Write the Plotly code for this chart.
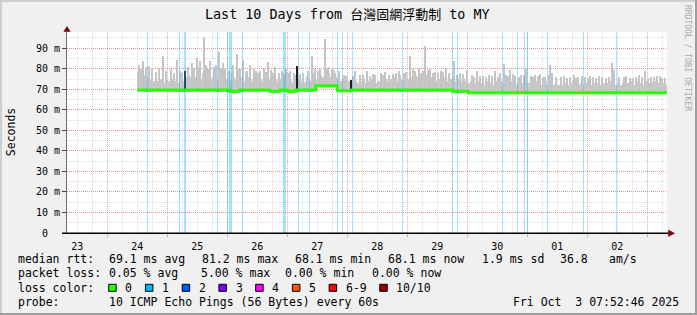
import numpy as np
import plotly.graph_objects as go

# ---------------- data (time in hours since 2025-09-23 00:00) ----------------
T_END = 247 + 52 / 60 + 46 / 3600          # Fri Oct 3 07:52:46
T_START = T_END - 240.0                    # last 10 days
Y_MAX = 97.9                               # ms

title_prefix = "Last 10 Days from "
title_target = "台灣固網浮動制"
title_suffix = " to MY"

day_label_hours = [12, 36, 60, 84, 108, 132, 156, 180, 204, 228]
day_labels = ["23", "24", "25", "26", "27", "28", "29", "30", "01", "02"]
y_tick_values = [0, 10, 20, 30, 40, 50, 60, 70, 80, 90]
y_tick_labels = ["0\u00a0\u00a0", "10 m", "20 m", "30 m", "40 m", "50 m",
                 "60 m", "70 m", "80 m", "90 m"]

# smoke (upper edge of ping spread), hourly from h=36
smoke_first_hour = 36
smoke_top = [
    78, 80, 77, 79, 76, 75, 74, 76, 74, 75, 73, 76,
    74, 73, 75, 74, 73, 75, 74, 76, 77, 76, 78, 76,
    77, 75, 78, 76, 77, 75, 76, 78, 75, 76, 74, 75,
    75, 74, 76, 75, 77, 76, 74, 75, 76, 74, 75, 76,
    74, 75, 74, 76, 75, 74, 73, 75, 74, 75, 73, 74,
    74, 75, 73, 74, 75, 74, 73, 74, 75, 74, 76, 75,
    76, 77, 76, 77, 78, 76, 77, 76, 75, 74, 75, 74,
    74, 73, 75, 74, 73, 74, 75, 73, 74, 75, 74, 73,
    74, 75, 76, 75, 74, 75, 76, 75, 74, 75, 74, 75,
    75, 76, 75, 77, 76, 75, 76, 77, 75, 76, 75, 74,
    75, 74, 76, 75, 74, 75, 76, 74, 75, 74, 75, 74,
    73, 74, 72, 73, 74, 73, 72, 73, 74, 73, 72, 74,
    73, 74, 73, 72, 73, 74, 73, 72, 73, 72, 73, 74,
    73, 72, 73, 74, 73, 72, 73, 74, 72, 73, 72, 73,
    72, 73, 72, 73, 72, 73, 74, 73, 72, 73, 72, 73,
    73, 72, 73, 74, 73, 72, 73, 72, 73, 74, 73, 72,
    73, 72, 73, 72, 73, 74, 72, 73, 74, 73, 72, 74, 73, 72, 73, 74, 73, 72, 73, 72,
]

# individual tall smoke spikes
spike_hours = [36.8, 38.3, 39.3, 40.6, 46.3,
               49.5, 51.8, 53.0, 57.9, 59.8,
               61.2, 62.5, 63.6, 65.2, 66.6, 68.5, 70.2, 71.0,
               74.2, 75.9, 77.2, 78.4, 80.0, 81.2, 82.8,
               85.0, 86.8, 88.4, 89.5, 91.2, 92.6, 95.3,
               97.0, 98.5, 101.2, 103.9, 105.9, 107.0,
               109.2, 110.9, 112.2, 113.9, 116.5,
               123.2, 125.0, 127.9, 130.1,
               133.6, 135.2, 138.4, 140.6, 142.8,
               145.2, 147.0, 148.8, 151.2, 153.2, 155.0,
               157.4, 159.6, 162.6, 165.2, 167.9,
               169.8, 171.9, 174.4, 176.6, 178.9,
               181.2, 182.5, 183.4, 185.2, 187.0, 190.5, 191.6,
               193.6, 195.2, 197.2, 199.0, 201.2, 202.0,
               205.5, 208.0, 210.5, 212.4, 213.9,
               217.2, 219.5, 222.0, 225.9, 226.6,
               230.5, 233.0, 236.5, 239.2, 241.5, 243.9, 246.0]
spike_tops = [82, 84, 81, 81.5, 86,
              80, 84.5, 79, 83, 85,
              84, 95.5, 82, 84, 81, 88, 83, 80,
              82, 87, 80, 84.5, 79, 82, 80,
              79, 80, 83.5, 79.5, 81, 78, 80,
              79, 78, 77.5, 76.5, 86, 80,
              80, 94.5, 81, 80.5, 79,
              79, 77, 79, 77.5,
              78, 78.5, 77.5, 79, 78,
              86, 79, 80, 91, 80, 78.5,
              79, 80, 84, 78, 79.5,
              77, 79, 76.5, 77, 79,
              78, 82.5, 77, 79.5, 76.5, 77, 80,
              76.5, 77, 77.5, 76, 82, 78,
              76, 75.5, 77.2, 76, 76.5,
              76.5, 75.5, 76, 83, 79.5,
              76, 75.5, 77, 79, 76, 76.5, 75.5]

# smaller smoke spikes
minor_spike_hours = [37.5, 42.0, 43.5, 44.8, 47.6, 50.6, 54.0, 56.4, 58.6, 60.5,
                     64.2, 67.3, 69.4, 72.6, 73.8, 76.6, 79.3, 83.6, 84.2, 87.4,
                     90.3, 93.8, 94.6, 96.3, 99.0, 102.4, 104.4, 106.6, 108.4, 111.6,
                     114.6, 115.2, 118.6, 119.4, 122.4, 126.4, 128.9, 131.2, 134.4, 136.6,
                     139.4, 141.2, 143.6, 146.2, 149.6, 150.4, 152.4, 154.2, 156.4, 158.4,
                     160.6, 163.8, 166.4, 170.6, 173.2, 175.6, 177.8, 180.2, 184.2, 186.2,
                     188.6, 189.4, 194.4, 196.4, 198.2, 200.6, 203.6, 206.6, 209.2, 211.4,
                     215.0, 216.2, 218.4, 220.6, 223.4, 224.6, 228.6, 231.6, 234.4, 235.6,
                     237.8, 240.4, 242.6, 245.0, 247.0]
minor_spike_tops = [79, 80, 78.5, 80, 79, 78, 78, 81, 80.5, 81,
                    80, 82, 80.5, 79, 78, 80, 78.5, 79, 78, 78.5,
                    78, 79, 77.5, 78, 77, 78, 79, 78, 79, 80,
                    79.5, 78, 77, 76.5, 76.5, 77, 76.5, 77, 77, 77,
                    78, 77, 78.5, 80, 78, 79, 79.5, 78, 78, 78.5,
                    78, 77, 77.5, 76, 76.5, 76, 76.5, 76, 76.5, 77.5,
                    76, 77, 76, 76.5, 76, 77, 76, 76.5, 76, 75.5,
                    76, 75.5, 76, 76.5, 75.5, 76, 76, 76.5, 75.5, 76,
                    76, 75.5, 76, 76.5, 75.5]

# dark (dense) smoke columns
dark_hours = [55.0, 100.0, 121.6]
dark_tops = [79.0, 81.2, 74.7]
dark_widths = [0.8, 0.9, 0.4]

# packet-loss events (1 of 10 lost)
loss_hours = [39.9, 52.9, 55.1, 68.1, 71.9, 73.2, 78.1, 95.0, 100.3, 104.9,
              116.1, 117.9, 121.9, 141.9, 161.9, 164.2, 181.9, 187.9, 190.9,
              192.0, 200.1, 214.5, 227.5]
loss_widths = [0.4, 0.4, 0.8, 0.4, 0.4, 1.2, 0.4, 1.1, 0.4, 0.4,
               0.4, 0.4, 0.4, 0.4, 0.4, 0.4, 0.4, 0.4, 0.4,
               0.4, 0.4, 0.4, 0.4]

# median rtt (step changes)
median_hours = [36, 73, 77, 89, 93, 96, 99.4, 107.4, 116.0, 121.8, 162, 168.4, T_END]
median_values = [69.6, 69.1, 69.6, 69.0, 69.6, 69.1, 69.6, 71.7, 69.3, 69.6, 69.0, 68.3, 68.3]

legend_rows = [
    [("median rtt:", 16), ("69.1 ms avg", 107.3), ("81.2 ms max", 200),
     ("68.1 ms min", 292.7), ("68.1 ms now", 385.7), ("1.9 ms sd", 480),
     ("36.8", 558.3), ("am/s", 607.3)],
    [("packet loss:", 16), ("0.05 % avg", 107.3), ("5.00 % max", 199),
     ("0.00 % min", 283), ("0.00 % now", 370)],
    [("loss color:", 16)],
    [("probe:", 16), ("10 ICMP Echo Pings (56 Bytes) every 60s", 107.3)],
]
legend_row_y = [259.3, 273.3, 287.7, 301.7]
timestamp_text = "Fri Oct\u00a0\u00a03 07:52:46 2025"

loss_labels = ["0", "1", "2", "3", "4", "5", "6-9", "10/10"]
loss_colors = ["#26ff00", "#00b8ff", "#0059ff", "#7e00ff",
               "#ff00ff", "#ff5500", "#ff0000", "#a10000"]

# ---------------- geometry helpers ----------------
W, H = 697, 315
PL, PT, PW, PH = 67, 32, 600, 201
MONO = "DejaVu Sans Mono"


def px(x):
    return (x - PL) / PW


def py(y):
    return (PT + PH - y) / PH


def median_at(h):
    mh = np.array(median_hours)
    idx = np.clip(np.searchsorted(mh, np.asarray(h), side="right") - 1, 0, len(mh) - 1)
    return np.array(median_values)[idx]


# ---------------- traces ----------------
smoke_h = np.arange(smoke_first_hour, smoke_first_hour + len(smoke_top)) + 0.5
smoke_base = median_at(smoke_h) - 0.8
spike_base = median_at(spike_hours) - 0.6
minor_base = median_at(minor_spike_hours) - 0.6
dark_base = median_at(dark_hours)
loss_med = median_at(loss_hours)

SMOKE = "#c9c9c9"
fig = go.Figure()
fig.add_trace(go.Bar(x=smoke_h, y=np.array(smoke_top) - smoke_base, base=smoke_base,
                     width=1.0, marker=dict(color=SMOKE, line=dict(width=0)),
                     hoverinfo="skip"))
fig.add_trace(go.Bar(x=minor_spike_hours, y=np.array(minor_spike_tops) - minor_base,
                     base=minor_base, width=0.4,
                     marker=dict(color="#c6c6c6", line=dict(width=0)), hoverinfo="skip"))
fig.add_trace(go.Bar(x=spike_hours, y=np.array(spike_tops) - spike_base, base=spike_base,
                     width=0.4, marker=dict(color="#c4c4c4", line=dict(width=0)),
                     hoverinfo="skip"))
fig.add_trace(go.Bar(x=dark_hours, y=np.array(dark_tops) - dark_base, base=dark_base,
                     width=dark_widths, marker=dict(color="#1e1e1e", line=dict(width=0)),
                     hoverinfo="skip"))
fig.add_trace(go.Bar(x=loss_hours, y=[Y_MAX] * len(loss_hours), base=0,
                     width=loss_widths,
                     marker=dict(color="rgba(0,184,255,0.36)", line=dict(width=0)),
                     hoverinfo="skip"))
fig.add_trace(go.Scatter(x=median_hours, y=median_values, mode="lines",
                         line=dict(color=loss_colors[0], width=3, shape="hv"),
                         hoverinfo="skip"))
fig.add_trace(go.Bar(x=loss_hours, y=[1.5] * len(loss_hours), base=loss_med - 0.75,
                     width=loss_widths,
                     marker=dict(color=loss_colors[1], line=dict(width=0)),
                     hoverinfo="skip"))
# invisible carrier for the day-label axis
fig.add_trace(go.Scatter(x=day_label_hours, y=[0] * len(day_label_hours), mode="markers",
                         marker=dict(opacity=0, size=1), xaxis="x2", yaxis="y",
                         hoverinfo="skip"))

GRID = "rgba(143,143,143,0.30)"
MGRID = "rgba(222,81,81,0.50)"

fig.update_layout(
    width=W, height=H,
    margin=dict(l=PL, r=W - PL - PW, t=PT, b=H - PT - PH),
    paper_bgcolor="#f0f0f0", plot_bgcolor="#ffffff",
    barmode="overlay", bargap=0, showlegend=False,
    font=dict(family=MONO, color="#000000"),
    xaxis=dict(range=[T_START, T_END], tickmode="linear", tick0=0, dtick=24,
               showticklabels=False, showgrid=True, gridcolor=MGRID, griddash="1px,1px",
               gridwidth=1, ticks="outside", ticklen=3, tickcolor=MGRID,
               minor=dict(dtick=6, tick0=0, showgrid=True, gridcolor=GRID,
                          griddash="1px,1px", gridwidth=1, ticks=""),
               showline=False, zeroline=False,
               layer="above traces", fixedrange=True),
    xaxis2=dict(range=[T_START, T_END], overlaying="x", anchor="y", side="bottom",
                tickmode="array", tickvals=day_label_hours, ticktext=day_labels,
                showgrid=False, showline=False, zeroline=False,
                ticks="outside", ticklen=4, tickcolor="rgba(0,0,0,0)",
                tickfont=dict(family=MONO, size=10, color="#000000"), fixedrange=True),
    yaxis=dict(range=[0, Y_MAX], tickmode="array", tickvals=y_tick_values,
               ticktext=y_tick_labels,
               tickfont=dict(family=MONO, size=10, color="#000000"),
               showgrid=True, gridcolor=MGRID, griddash="1px,1px", gridwidth=1,
               minor=dict(dtick=5, tick0=0, showgrid=True, gridcolor=GRID,
                          griddash="1px,1px", gridwidth=1, ticks=""),
               ticks="outside", ticklen=4, tickcolor="#444444",
               showline=True, linecolor="#6e6e6e", linewidth=1, zeroline=False,
               layer="above traces", fixedrange=True),
)

annotations = []
shapes = []

# title
annotations.append(dict(
    x=px(347.7), y=py(14), xref="paper", yref="paper", showarrow=False,
    xanchor="center", yanchor="middle",
    text=(title_prefix + "<span style='font-family:Noto Sans CJK TC;font-size:13px'>"
          + title_target + "</span>" + title_suffix),
    font=dict(family=MONO, size=13.4, color="#000000")))

# y axis title
annotations.append(dict(
    x=px(10.5), y=py(132.7), xref="paper", yref="paper", showarrow=False,
    xanchor="center", yanchor="middle", textangle=-90, text="Seconds",
    font=dict(family=MONO, size=11.5, color="#000000")))

# watermark
annotations.append(dict(
    x=px(687.5), y=py(57.5), xref="paper", yref="paper", showarrow=False,
    xanchor="center", yanchor="middle", textangle=90, text="RRDTOOL / TOBI OETIKER",
    font=dict(family=MONO, size=8, color="#a9a9a9")))

# legend rows
for row, yy in zip(legend_rows, legend_row_y):
    for txt, xx in row:
        annotations.append(dict(
            x=px(xx), y=py(yy), xref="paper", yref="paper", showarrow=False,
            xanchor="left", yanchor="middle", text=txt,
            font=dict(family=MONO, size=11.5, color="#000000")))
annotations.append(dict(
    x=px(680.5), y=py(legend_row_y[3]), xref="paper", yref="paper", showarrow=False,
    xanchor="right", yanchor="middle", text=timestamp_text,
    font=dict(family=MONO, size=11.5, color="#000000")))

# loss colour swatches
CHAR_W = 6.94
bx = 108.7
for lab, col in zip(loss_labels, loss_colors):
    shapes.append(dict(type="rect", xref="paper", yref="paper",
                       x0=px(bx), x1=px(bx + 7.5), y0=py(291.3), y1=py(284.3),
                       fillcolor=col, line=dict(color="#000000", width=1)))
    lx = bx + 14.7
    annotations.append(dict(
        x=px(lx), y=py(legend_row_y[2]), xref="paper", yref="paper", showarrow=False,
        xanchor="left", yanchor="middle", text=lab,
        font=dict(family=MONO, size=11.5, color="#000000")))
    bx = lx + len(lab) * CHAR_W + 15.1

# axis arrows and base line
shapes.append(dict(type="line", xref="paper", yref="paper",
                   x0=px(62), x1=px(669), y0=py(233.3), y1=py(233.3),
                   line=dict(color="#000000", width=1.5)))
shapes.append(dict(type="path", xref="paper", yref="paper",
                   path=f"M {px(67)} {py(26.5)} L {px(63.8)} {py(31.5)} L {px(70.2)} {py(31.5)} Z",
                   fillcolor="#7f0000", line=dict(color="#7f0000", width=0.5)))
shapes.append(dict(type="path", xref="paper", yref="paper",
                   path=f"M {px(674.5)} {py(233.3)} L {px(668.5)} {py(230.1)} L {px(668.5)} {py(236.5)} Z",
                   fillcolor="#7f0000", line=dict(color="#7f0000", width=0.5)))

# frame shading
shapes.append(dict(type="rect", xref="paper", yref="paper", x0=px(0), x1=px(W),
                   y0=py(0), y1=py(2), fillcolor="#cfcfcf", line=dict(width=0)))
shapes.append(dict(type="rect", xref="paper", yref="paper", x0=px(0), x1=px(2),
                   y0=py(0), y1=py(H), fillcolor="#cfcfcf", line=dict(width=0)))
shapes.append(dict(type="rect", xref="paper", yref="paper", x0=px(0), x1=px(W),
                   y0=py(H - 2), y1=py(H), fillcolor="#9e9e9e", line=dict(width=0)))
shapes.append(dict(type="rect", xref="paper", yref="paper", x0=px(W - 2), x1=px(W),
                   y0=py(0), y1=py(H), fillcolor="#9e9e9e", line=dict(width=0)))

fig.update_layout(annotations=annotations, shapes=shapes)
fig.write_html("out.html", config={"displayModeBar": False})
